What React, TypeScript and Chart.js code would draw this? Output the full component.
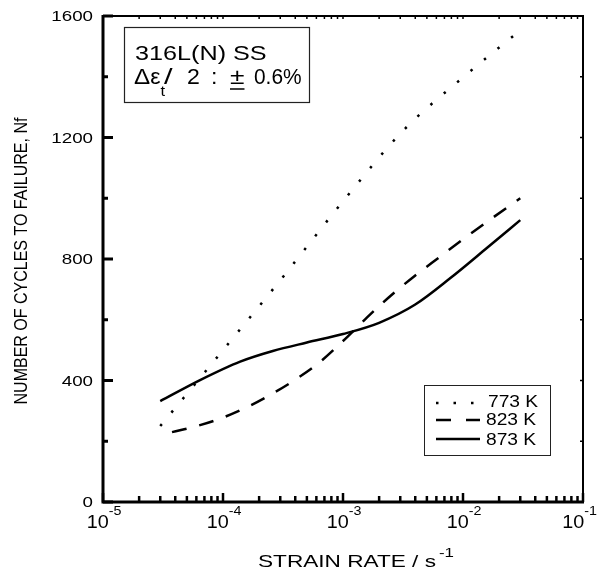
import React, { useEffect, useRef } from "react";
import { Chart, registerables } from "chart.js";

Chart.register(...registerables);

// ---- data ----
const strainRate773 = [3e-5, 1e-4, 3.16e-4, 1e-3, 3.16e-3, 1e-2, 3e-2];
const cycles773 = [250, 500, 741, 990, 1222, 1398, 1553];
const strainRate823 = [3.76e-5, 6.3e-5, 1e-4, 1.58e-4, 2.51e-4, 3.98e-4, 6.3e-4, 1e-3, 1.58e-3, 2.51e-3, 3.98e-3, 6.3e-3, 1e-2, 1.58e-2, 3e-2];
const cycles823 = [230, 252, 278, 312, 354, 402, 458, 530, 607, 680, 745, 805, 865, 922, 1000];
const strainRate873 = [3e-5, 6.5e-5, 1.39e-4, 2.6e-4, 5e-4, 1e-3, 2e-3, 4e-3, 7.9e-3, 1.58e-2, 3e-2];
const cycles873 = [332, 402, 462, 497, 525, 553, 590, 650, 738, 836, 928];
const seriesLabels = ["773 K", "823 K", "873 K"];

const xDecadeExponents = [-5, -4, -3, -2, -1];
const yMajorTicks = [0, 400, 800, 1200, 1600];
const yMinorTicks = [200, 600, 1000, 1400];
const xTitleText = "STRAIN RATE / s";
const xTitleSup = "-1";
const yTitleText = "NUMBER OF CYCLES TO FAILURE, Nf";
const boxLine1 = "316L(N) SS";

const FONT = "'Liberation Sans', Arial, Helvetica, sans-serif";
const SX = 1.2;

function drawText(
  ctx: CanvasRenderingContext2D,
  s: string,
  x: number,
  y: number,
  size: number,
  align: "left" | "right" | "center" = "left",
  sx: number = SX
): number {
  ctx.save();
  ctx.font = `${size}px ${FONT}`;
  ctx.textBaseline = "alphabetic";
  ctx.textAlign = "left";
  const w = ctx.measureText(s).width * sx;
  const x0 = align === "left" ? x : align === "right" ? x - w : x - w / 2;
  ctx.translate(x0, y);
  ctx.scale(sx, 1);
  ctx.fillStyle = "#000";
  ctx.fillText(s, 0, 0);
  ctx.restore();
  return w;
}

function measure(ctx: CanvasRenderingContext2D, s: string, size: number, sx: number = SX) {
  ctx.save();
  ctx.font = `${size}px ${FONT}`;
  const w = ctx.measureText(s).width * sx;
  ctx.restore();
  return w;
}

const decorPlugin = {
  id: "decor",
  afterDraw(chart: any) {
    const ctx: CanvasRenderingContext2D = chart.ctx;
    const { left, right, top, bottom } = chart.chartArea;
    const xs = chart.scales.x;
    const ys = chart.scales.y;
    ctx.save();
    ctx.strokeStyle = "#000";
    ctx.lineCap = "butt";

    // frame
    ctx.lineWidth = 2;
    ctx.beginPath();
    ctx.moveTo(left, top);
    ctx.lineTo(right, top);
    ctx.lineTo(right, bottom);
    ctx.stroke();
    ctx.lineWidth = 3;
    ctx.beginPath();
    ctx.moveTo(left, top - 1);
    ctx.lineTo(left, bottom);
    ctx.lineTo(right + 1, bottom);
    ctx.stroke();

    // y ticks
    yMajorTicks.forEach((v) => {
      const p = ys.getPixelForValue(v);
      ctx.lineWidth = 3;
      ctx.beginPath();
      ctx.moveTo(left, p);
      ctx.lineTo(left + 10, p);
      ctx.stroke();
      ctx.lineWidth = 1.5;
      ctx.beginPath();
      ctx.moveTo(right - 3, p);
      ctx.lineTo(right, p);
      ctx.stroke();
      drawText(ctx, String(v), left - 10, p + 5, 14, "right", 1.34);
    });
    yMinorTicks.forEach((v) => {
      const p = ys.getPixelForValue(v);
      ctx.lineWidth = 3;
      ctx.beginPath();
      ctx.moveTo(left, p);
      ctx.lineTo(left + 5, p);
      ctx.stroke();
      ctx.lineWidth = 1.5;
      ctx.beginPath();
      ctx.moveTo(right - 3, p);
      ctx.lineTo(right, p);
      ctx.stroke();
    });

    // x ticks
    xDecadeExponents.forEach((e, i) => {
      const last = i === xDecadeExponents.length - 1;
      for (let m = 1; m <= (last ? 1 : 9); m++) {
        const v = m * Math.pow(10, e);
        const p = xs.getPixelForValue(v);
        const major = m === 1;
        ctx.lineWidth = 2.5;
        ctx.beginPath();
        ctx.moveTo(p, bottom);
        ctx.lineTo(p, bottom - (major ? 9 : 6));
        ctx.stroke();
        ctx.lineWidth = 1.5;
        ctx.beginPath();
        ctx.moveTo(p, top);
        ctx.lineTo(p, top + 3);
        ctx.stroke();
      }
      const p = xs.getPixelForValue(Math.pow(10, e));
      const wb = measure(ctx, "10", 18, 1.1);
      const ws = measure(ctx, String(e), 13, 1.1);
      let start = p - (wb + ws) / 2 + 1;
      if (start + wb + ws > 597) start = 597 - wb - ws;
      drawText(ctx, "10", start, bottom + 26, 18, "left", 1.1);
      drawText(ctx, String(e), start + wb, bottom + 13, 13, "left", 1.1);
    });

    // axis titles
    const tw = drawText(ctx, xTitleText, left + 155, bottom + 65, 17, "left", 1.33);
    drawText(ctx, xTitleSup, left + 155 + tw + 3, bottom + 55, 13, "left", 1.3);

    ctx.save();
    ctx.translate(22, (top + bottom) / 2 + 2);
    ctx.scale(SX, 1);
    ctx.rotate(-Math.PI / 2);
    ctx.font = `16px ${FONT}`;
    ctx.textAlign = "center";
    ctx.textBaseline = "middle";
    ctx.fillStyle = "#000";
    ctx.fillText(yTitleText, 0, 0);
    ctx.restore();

    // annotation box
    const bx = left + 21;
    const by = top + 11;
    ctx.lineWidth = 1.2;
    ctx.strokeStyle = "#222";
    ctx.strokeRect(bx + 0.5, by + 0.5, 185, 75);
    drawText(ctx, boxLine1, bx + 11, by + 33, 21, "left", 1.2);
    const b2 = by + 57;
    let cx = bx + 10;
    cx += drawText(ctx, "\u0394", cx, b2, 22, "left", 1.1);
    cx += drawText(ctx, "\u03b5", cx, b2, 22, "left", 1.05);
    cx += drawText(ctx, "t", cx, b2 + 12, 15, "left", 1.1);
    drawText(ctx, "/", cx - 1, b2, 22, "left", 1.4);
    drawText(ctx, "2", bx + 63, b2, 22, "left", 1.05);
    drawText(ctx, ":", bx + 87, b2, 22, "left", 1.05);
    const pmx = bx + 106;
    const pmw = drawText(ctx, "\u00b1", pmx, b2, 22, "left", 1.2);
    ctx.lineWidth = 1.5;
    ctx.strokeStyle = "#000";
    ctx.beginPath();
    ctx.moveTo(pmx, b2 + 5);
    ctx.lineTo(pmx + pmw, b2 + 5);
    ctx.stroke();
    drawText(ctx, "0.6%", bx + 130, b2, 22, "left", 0.95);

    // legend
    const lx = 424;
    const ly = 385;
    ctx.lineWidth = 1;
    ctx.strokeStyle = "#222";
    ctx.strokeRect(lx + 0.5, ly + 0.5, 126, 70);
    const rowY = [403, 420, 439];
    const textY = [407, 425, 445];
    chart.data.datasets.forEach((ds: any, i: number) => {
      ctx.save();
      ctx.strokeStyle = ds.borderColor;
      ctx.lineWidth = ds.borderWidth;
      ctx.setLineDash(i === 1 ? [15, 15] : ds.borderDash || []);
      ctx.beginPath();
      ctx.moveTo(lx + 12, rowY[i]);
      ctx.lineTo(lx + 56, rowY[i]);
      ctx.stroke();
      ctx.restore();
      drawText(ctx, ds.label, lx + (i === 0 ? 64 : 62), textY[i], 16, "left", 1.2);
    });

    ctx.restore();
  },
};

export default function App() {
  const ref = useRef<HTMLCanvasElement | null>(null);
  useEffect(() => {
    if (!ref.current) return;
    const mk = (xsArr: number[], ysArr: number[]) => xsArr.map((x, i) => ({ x, y: ysArr[i] }));
    const chart = new Chart(ref.current, {
      type: "line",
      data: {
        datasets: [
          {
            label: seriesLabels[0],
            data: mk(strainRate773, cycles773),
            borderColor: "#000",
            borderWidth: 2.5,
            borderDash: [2.5, 15],
            pointRadius: 0,
            cubicInterpolationMode: "monotone",
            fill: false,
          },
          {
            label: seriesLabels[1],
            data: mk(strainRate823, cycles823),
            borderColor: "#000",
            borderWidth: 2.5,
            borderDash: [15, 13],
            pointRadius: 0,
            cubicInterpolationMode: "monotone",
            fill: false,
          },
          {
            label: seriesLabels[2],
            data: mk(strainRate873, cycles873),
            borderColor: "#000",
            borderWidth: 2.5,
            pointRadius: 0,
            cubicInterpolationMode: "monotone",
            fill: false,
          },
        ],
      },
      options: {
        responsive: false,
        animation: false,
        devicePixelRatio: 1,
        layout: { padding: { left: 103, right: 18, top: 16, bottom: 72 } },
        plugins: { legend: { display: false }, tooltip: { enabled: false } },
        scales: {
          x: { type: "logarithmic", min: 1e-5, max: 1e-1, display: false },
          y: { type: "linear", min: 0, max: 1600, display: false },
        },
      } as any,
      plugins: [decorPlugin],
    });
    return () => chart.destroy();
  }, []);
  return (
    <div style={{ position: "absolute", left: 0, top: 0, width: 601, height: 574, background: "#fff" }}>
      <canvas ref={ref} width={601} height={574} style={{ display: "block" }} />
    </div>
  );
}
